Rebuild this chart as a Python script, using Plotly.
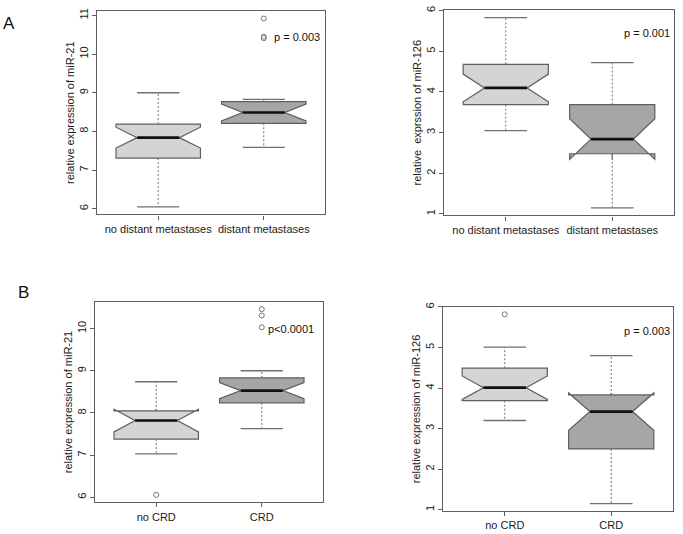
import plotly.graph_objects as go

# ---------------- data ----------------
cats_A = ["no distant metastases", "distant metastases"]
cats_B = ["no CRD", "CRD"]

# Panel A, miR-21
a21_low = [6.05, 7.59]
a21_q1 = [7.31, 8.21]
a21_med = [7.84, 8.49]
a21_q3 = [8.19, 8.77]
a21_high = [9.00, 8.83]
a21_notch = [0.27, 0.22]
a21_out = [[], [10.92, 10.45, 10.41]]

# Panel A, miR-126
a126_low = [3.05, 1.15]
a126_q1 = [3.69, 2.48]
a126_med = [4.10, 2.84]
a126_q3 = [4.68, 3.69]
a126_high = [5.83, 4.72]
a126_notch = [0.34, 0.50]
a126_out = [[], []]

# Panel B, miR-21
b21_low = [7.03, 7.63]
b21_q1 = [7.38, 8.24]
b21_med = [7.82, 8.53]
b21_q3 = [8.05, 8.83]
b21_high = [8.74, 9.00]
b21_notch = [0.27, 0.19]
b21_out = [[6.06], [10.46, 10.31, 10.03]]

# Panel B, miR-126
b126_low = [3.20, 1.15]
b126_q1 = [3.69, 2.50]
b126_med = [4.01, 3.42]
b126_q3 = [4.49, 3.83]
b126_high = [5.01, 4.80]
b126_notch = [0.29, 0.46]
b126_out = [[5.82], []]

p_texts = ["p = 0.003", "p = 0.001", "p<0.0001", "p = 0.003"]
y_titles = ["relative expression of miR-21", "relative  exprssion of miR-126",
            "relative expression of miR-21", "relative expression of miR-126"]

# ---------------- style ----------------
FONT = "Liberation Sans, Arial, sans-serif"
FILLS = ["#d4d4d4", "#a6a6a6"]
EDGE = "#5e5e5e"
W = 683
H = 534

panels = [
    dict(cats=cats_A, low=a21_low, q1=a21_q1, med=a21_med, q3=a21_q3, high=a21_high,
         notch=a21_notch, out=a21_out, yr=[5.855, 11.115],
         dom_x=(97, 325), dom_y=(7, 212), p=(322, 33)),
    dict(cats=cats_A, low=a126_low, q1=a126_q1, med=a126_med, q3=a126_q3, high=a126_high,
         notch=a126_notch, out=a126_out, yr=[0.963, 6.017],
         dom_x=(444, 674), dom_y=(6, 213), p=(672, 29)),
    dict(cats=cats_B, low=b21_low, q1=b21_q1, med=b21_med, q3=b21_q3, high=b21_high,
         notch=b21_notch, out=b21_out, yr=[5.884, 10.636],
         dom_x=(95, 323), dom_y=(300, 502), p=(316, 327)),
    dict(cats=cats_B, low=b126_low, q1=b126_q1, med=b126_med, q3=b126_q3, high=b126_high,
         notch=b126_notch, out=b126_out, yr=[0.963, 6.007],
         dom_x=(443, 673), dom_y=(305, 511), p=(672, 329)),
]

fig = go.Figure()
BOXW = 0.8
STAPLE = 0.2
MEDHALF = 0.2

for i, pn in enumerate(panels):
    xa = "x" if i == 0 else f"x{i+1}"
    ya = "y" if i == 0 else f"y{i+1}"
    for j in range(2):
        pos = j + 1
        # whiskers (dashed)
        fig.add_trace(go.Scatter(
            x=[pos, pos, None, pos, pos],
            y=[pn["q3"][j], pn["high"][j], None, pn["q1"][j], pn["low"][j]],
            mode="lines", line=dict(color="#707070", width=1, dash="2px,2px"),
            xaxis=xa, yaxis=ya, hoverinfo="skip"))
        # staples
        fig.add_trace(go.Scatter(
            x=[pos - STAPLE, pos + STAPLE, None, pos - STAPLE, pos + STAPLE],
            y=[pn["high"][j], pn["high"][j], None, pn["low"][j], pn["low"][j]],
            mode="lines", line=dict(color="#707070", width=1.3),
            xaxis=xa, yaxis=ya, hoverinfo="skip"))
        # notched box
        fig.add_trace(go.Box(
            x=[pos], q1=[pn["q1"][j]], median=[pn["med"][j]], q3=[pn["q3"][j]],
            lowerfence=[pn["q1"][j]], upperfence=[pn["q3"][j]],
            notchspan=[pn["notch"][j]], notched=True, notchwidth=0.25,
            whiskerwidth=0, width=BOXW, boxpoints=False,
            fillcolor=FILLS[j], line=dict(color=EDGE, width=1.2),
            xaxis=xa, yaxis=ya))
        # median line
        fig.add_trace(go.Scatter(
            x=[pos - MEDHALF, pos + MEDHALF], y=[pn["med"][j], pn["med"][j]],
            mode="lines", line=dict(color="#111111", width=2.6),
            xaxis=xa, yaxis=ya, hoverinfo="skip"))
        # outliers
        if pn["out"][j]:
            fig.add_trace(go.Scatter(
                x=[pos] * len(pn["out"][j]), y=pn["out"][j], mode="markers",
                marker=dict(symbol="circle-open", size=5, color="#777777",
                            line=dict(width=1)),
                xaxis=xa, yaxis=ya, hoverinfo="skip"))

    xkey = "xaxis" if i == 0 else f"xaxis{i+1}"
    ykey = "yaxis" if i == 0 else f"yaxis{i+1}"
    x0, x1 = pn["dom_x"]
    y0, y1 = pn["dom_y"]
    fig.layout[xkey] = dict(
        domain=[x0 / W, x1 / W], anchor=ya, range=[0.42, 2.58],
        tickmode="array", tickvals=[1, 2], ticktext=pn["cats"],
        ticks="outside", ticklen=4, tickcolor=EDGE,
        showline=True, mirror=True, linecolor=EDGE, linewidth=1.2,
        showgrid=False, zeroline=False,
        tickfont=dict(family=FONT, size=11, color="#222222"))
    fig.layout[ykey] = dict(
        domain=[1 - y1 / H, 1 - y0 / H], anchor=xa, range=pn["yr"],
        dtick=1, tickangle=-90, ticks="outside", ticklen=4, tickcolor=EDGE,
        showline=True, mirror=True, linecolor=EDGE, linewidth=1.2,
        showgrid=False, zeroline=False,
        tickfont=dict(family=FONT, size=11, color="#222222"),
        title=dict(text=y_titles[i], font=dict(family=FONT, size=11, color="#222222"),
                   standoff=0))
    fig.add_annotation(
        x=pn["p"][0] / W, y=1 - pn["p"][1] / H, xref="paper", yref="paper",
        text=p_texts[i], showarrow=False, xanchor="right", yanchor="middle",
        font=dict(family=FONT, size=11, color="#111111"))

fig.add_annotation(x=9 / W, y=1 - 20 / H, xref="paper", yref="paper", text="A",
                   showarrow=False, xanchor="center", yanchor="middle",
                   font=dict(family=FONT, size=17, color="#111111"))
fig.add_annotation(x=23 / W, y=1 - 291 / H, xref="paper", yref="paper", text="B",
                   showarrow=False, xanchor="center", yanchor="middle",
                   font=dict(family=FONT, size=17, color="#111111"))

fig.update_layout(
    width=W, height=H, margin=dict(l=0, r=0, t=0, b=0),
    paper_bgcolor="white", plot_bgcolor="white", showlegend=False)

fig.write_html(
    "out.html",
    config={"displayModeBar": False},
    post_script="document.body.style.margin='0';document.body.style.overflow='hidden';")
